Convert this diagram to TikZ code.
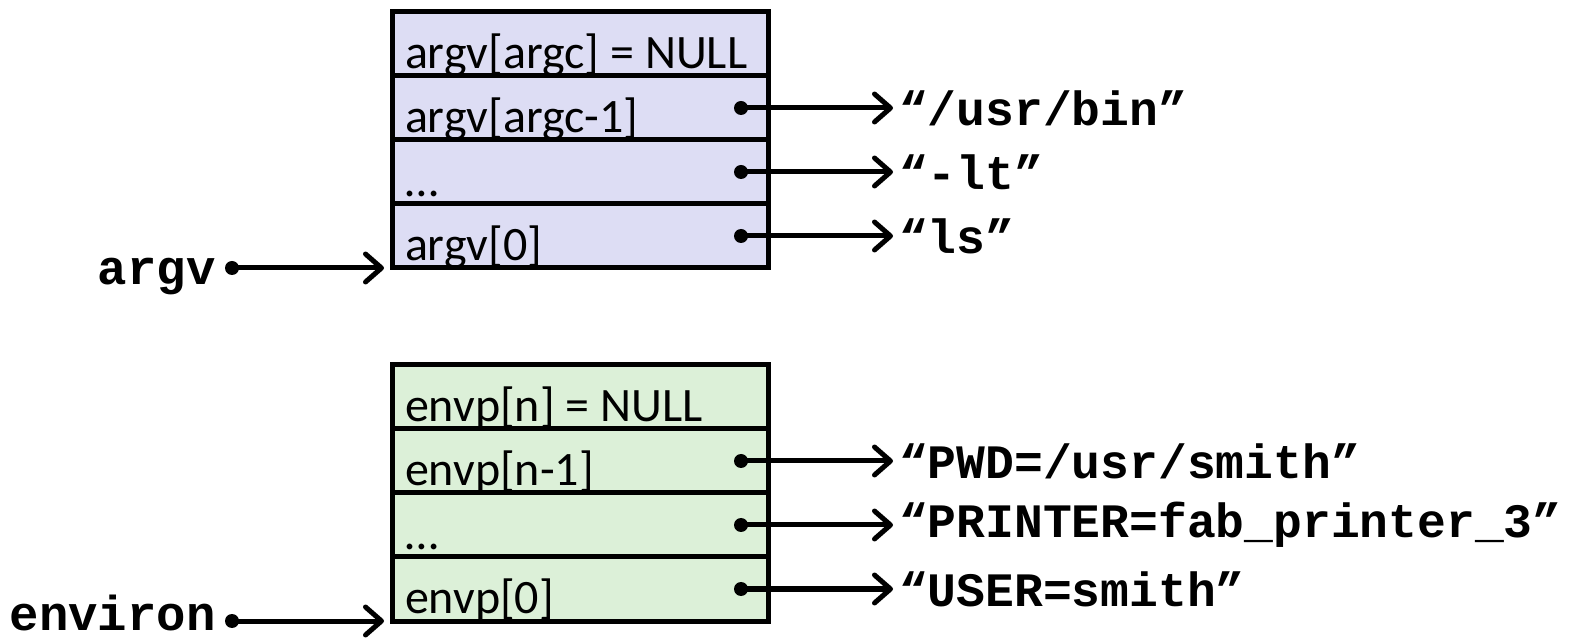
\documentclass[tikz,border=0pt]{standalone}
\usepackage{fontspec}
\setmainfont{Carlito}
\newfontfamily\codefont{Liberation Mono}
\usepackage{tikz}
\usetikzlibrary{arrows.meta,positioning}
\definecolor{argvfill}{HTML}{DDDDF4}
\definecolor{envfill}{HTML}{DCF0D8}
\tikzstyle{argcell}=[draw, line width=2.5pt, fill=argvfill, anchor=north west,
outer sep=0pt, minimum width=188pt, minimum height=32pt,
inner xsep=6.5pt, inner ysep=0pt, text height=28.2pt, text depth=3.8pt,
font=\fontsize{24}{28}\selectfont]
\tikzstyle{envcell} = [argcell, fill=envfill]
\tikzstyle{ptr} = [draw, line width=2.5pt, -{Straight Barb[length=8pt,width=14pt,round]}]
\tikzstyle{strlbl} = [inner sep=3pt, outer sep=0pt, font=\codefont\bfseries\fontsize{24}{28}\selectfont]
\tikzstyle{varlbl} = [anchor=base east, inner sep=0pt, font=\codefont\bfseries\fontsize{24.5}{28}\selectfont]
\newcommand{\argcell}[2]{node (#1)[argcell]{\makebox[175pt][l]{#2}}}
\newcommand{\envcell}[2]{node (#1)[envcell]{\makebox[175pt][l]{#2}}}

\begin{document}
\begin{tikzpicture}[x=0.5pt,y=-0.5pt]
	\useasboundingbox (0,0) rectangle (1575,641);

	% Draw argv array
	\path (392,12) \argcell{a3}{argv[argc] = NULL};
	\path (a3.south west) \argcell{a2}{argv[argc-1]};
	\path (a2.south west) \argcell{a1}{…};
	\path (a1.south west) \argcell{a0}{argv[0]};

	% Draw envp array
	\path (392,365) \envcell{e3}{envp[n] = NULL};
	\path (e3.south west) \envcell{e2}{envp[n-1]};
	\path (e2.south west) \envcell{e1}{…};
	\path (e1.south west) \envcell{e0}{envp[0]};

	% Pointer dots
	\foreach \c in {a2,a1,a0,e2,e1,e0} {
		\coordinate (d\c) at ([xshift=-13.5pt]\c.east);
		\fill (d\c) circle (3.5pt);
	}
	\coordinate (argvdot) at ([xshift=-80pt]a0.south west);
	\coordinate (environdot) at ([xshift=-80pt]e0.south west);
	\fill (argvdot) circle (3.5pt);
	\fill (environdot) circle (3.5pt);

	% Strings
	\node (sa2)[strlbl, right=76pt of da2] {“/usr/bin”};
	\node (sa1)[strlbl, right=76pt of da1] {“-lt”};
	\node (sa0)[strlbl, right=76pt of da0] {“ls”};
	\node (se2)[strlbl, right=76pt of de2] {“PWD=/usr/smith”};
	\node (se1)[strlbl, right=76pt of de1] {“PRINTER=fab\_printer\_3”};
	\node (se0)[strlbl, right=76pt of de0] {“USER=smith”};
	\node (argvlbl)[varlbl] at (216,285) {argv};
	\node (environlbl)[varlbl] at (216,631) {environ};

	% Draw arrows
	\foreach \c in {a2,a1,a0,e2,e1,e0}
		\path [ptr] (d\c) -- (s\c.west);
	\path [ptr, shorten >=4pt] (argvdot) -- (a0.south west);
	\path [ptr, shorten >=4pt] (environdot) -- (e0.south west);
\end{tikzpicture}
\end{document}
